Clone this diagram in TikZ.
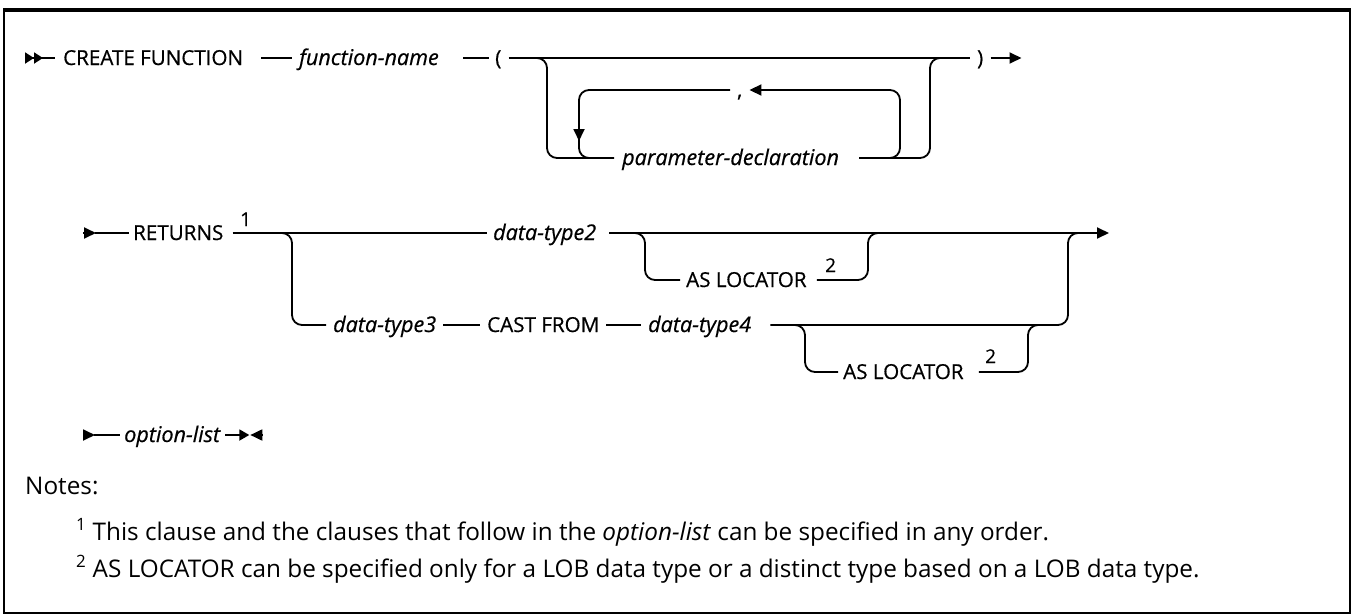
\documentclass[tikz,border=0pt]{standalone}
\usepackage{fontspec}
\setmainfont{Open Sans}
\newfontfamily\diagfam[FakeBold=0.6]{Open Sans}
\usetikzlibrary{arrows.meta}

\newcommand{\diagfont}{\diagfam\fontsize{20.6}{24}\selectfont}
\newcommand{\notefont}{\fontsize{24.3}{29}\selectfont}

\begin{document}
\begin{tikzpicture}[x=1pt, y=-1pt, rail/.style={line width=1.8pt, rounded corners=10pt}, tip/.style={-{Triangle[length=12pt, width=11pt]}}, kw/.style={anchor=west, inner sep=0pt, text height=14pt, text depth=0pt, font=\diagfont}, var/.style={kw, font=\diagfam\fontsize{21.6}{25}\selectfont\itshape}, supnum/.style={anchor=base west, inner sep=0pt, font=\diagfam\fontsize{19}{22}\selectfont}, note/.style={anchor=base west, inner sep=0pt, font=\notefont}]
\useasboundingbox (0,0) rectangle (1353,616);
% frame
\draw[line width=2pt] (4,11) -- (4,613) -- (1350,613) -- (1350,11);
\draw[line width=3.5pt] (3,10) -- (1351,10);
% first line
\coordinate (s1) at (25,58);
\node[kw] (cf) at (63,58) {CREATE FUNCTION};
\node[var] (fname) at (299,58) {function-name};
\node[kw] (lpar) at (495,58) {(};
\node[var] (param) at (622,158) {parameter-declaration};
\node[kw] (comma) at (737,90) {,};
\node[kw] (rpar) at (977,58) {)};
\coordinate (lp) at (875,158);
\draw[rail, -{Triangle[length=9pt, width=11pt, sep=0pt] Triangle[length=9pt, width=11pt]}] (s1) -- ++(18,0);
\draw[rail] ([xshift=17pt]s1) -- ([xshift=-8pt]cf.west);
\draw[rail] ([xshift=18pt]cf.east) -- ([xshift=-7pt]fname.west);
\draw[rail] ([xshift=24pt]fname.east) -- ([xshift=-6pt]lpar.west);
\draw[rail] ([xshift=7pt]lpar.east) -- ([xshift=-7pt]rpar.west);
\draw[rail] (530,58) -| (547,158) -- ([xshift=-8pt]param.west);
\draw[rail] ([xshift=20pt]param.east) -| (930,58) -- (945,58);
\draw[rail, tip] (lp) -| (900,90) -- ([xshift=7pt]comma.east);
\draw[rail, tip] ([xshift=-7pt]comma.west) -| (579,141);
\draw[rail] (579,130) |- (600,158);
\draw[rail, tip] ([xshift=7pt]rpar.east) -- ++(31,0);
% second line
\node[kw] (ret) at (133,233) {RETURNS};
\node[supnum] (n1) at (240,226) {1};
\node[var] (dt2) at (493,233) {data-type2};
\node[kw] (asl1) at (686,280) {AS LOCATOR};
\node[supnum] (n2a) at (825,272) {2};
\node[var] (dt3) at (333,325) {data-type3};
\node[kw] (cast) at (487,325) {CAST FROM};
\node[var] (dt4) at (648,325) {data-type4};
\node[kw] (asl2) at (843,372) {AS LOCATOR};
\node[supnum] (n2b) at (985,363) {2};
\draw[rail, tip] (83,233) -- (96,233);
\draw[rail] (95,233) -- ([xshift=-4pt]ret.west);
\draw[rail] ([xshift=9pt]ret.east) -- ([xshift=-6pt]dt2.west);
\draw[rail] (270,233) -| (292,325) -- ([xshift=-7pt]dt3.west);
\draw[rail, tip] ([xshift=13pt]dt2.east) -- (1109,233);
\draw[rail] (630,233) -| (645,280) -- ([xshift=-6pt]asl1.west);
\draw[rail] ([xshift=10pt]asl1.east) -| (868,233) -- (880,233);
\draw[rail] ([xshift=7pt]dt3.east) -- ([xshift=-7pt]cast.west);
\draw[rail] ([xshift=7pt]cast.east) -- ([xshift=-7pt]dt4.west);
\draw[rail] ([xshift=19pt]dt4.east) -| (1068,233) -- (1080,233);
\draw[rail] (790,325) -| (805,372) -- ([xshift=-5pt]asl2.west);
\draw[rail] ([xshift=15pt]asl2.east) -| (1028,325) -- (1040,325);
% third line
\node[var] (opt) at (124,435) {option-list};
\draw[rail, tip] (83,435) -- (95,435);
\draw[rail] (94,435) -- ([xshift=-4pt]opt.west);
\draw[rail, -{Triangle[length=10pt, width=11pt]}] ([xshift=5pt]opt.east) -- ++(24,0);
\draw[rail, -{Triangle[length=12pt, width=11pt]}] ([xshift=42pt]opt.east) -- ++(-12,0);
% notes
\node[note] (nh) at (25,494) {Notes:};
\node[note] (t1) at (76,540) {\textsuperscript{1} This clause and the clauses that follow in the \textit{option-list} can be specified in any order.};
\node[note] (t2) at (76,577) {\textsuperscript{2} AS LOCATOR can be specified only for a LOB data type or a distinct type based on a LOB data type.};
\end{tikzpicture}
\end{document}
